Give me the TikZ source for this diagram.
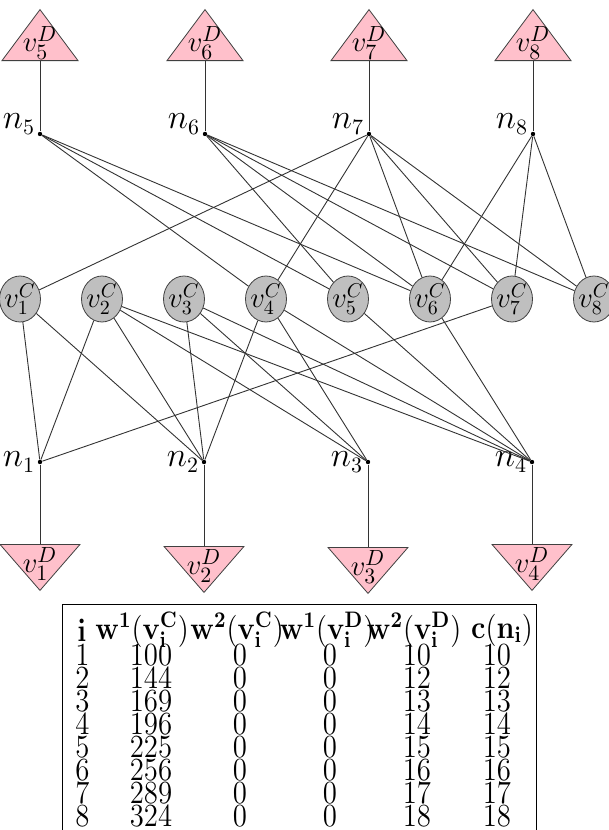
\documentclass[tikz,border=0pt]{standalone}
\usepackage{amsmath, amssymb}
\usepackage{graphicx}
\usepackage{xcolor}
\usepackage{tikz}
\usetikzlibrary{shapes.geometric}

\definecolor{demandpink}{RGB}{255,192,203}

\begin{document}
\begin{tikzpicture}[
    x=0.5pt, y=-0.5pt,
    font=\fontsize{16}{19}\selectfont,
    cnode/.style={ellipse, draw=black!75, fill=gray!50, minimum width=20.5pt, minimum height=23pt, inner sep=0pt},
    dtop/.style={isosceles triangle, isosceles triangle stretches, shape border rotate=90, draw=black!75, fill=demandpink, minimum width=38pt, minimum height=25.5pt, inner sep=0pt},
    dbot/.style={isosceles triangle, isosceles triangle stretches, shape border rotate=270, draw=black!75, fill=demandpink, minimum width=40pt, minimum height=23pt, inner sep=0pt},
    ndot/.style={circle, fill=black, inner sep=0pt, minimum size=2.2pt},
    link/.style={draw=black!80, line width=0.45pt},
    cell/.style={inner sep=0pt, font=\fontsize{14}{16}\selectfont}
]
    \useasboundingbox (0,0) rectangle (609,830);

    % Layer 3 - Top
    \foreach \k/\x in {5/40, 6/205, 7/369, 8/533} {
        \node[ndot, label={[inner sep=1pt, yshift=5pt]left:$n_{\k}$}] (n\k) at (\x,134) {};
        \node[dtop, anchor=lower side] (d\k) at (\x,61) {};
        \node[inner sep=0pt, font=\fontsize{15}{18}\selectfont] (t\k) at ([yshift=9pt]d\k.lower side) {$v_{\k}^D$};
        \draw[link] (d\k) -- (n\k);
    }

    % Layer 2 - Middle
    \foreach \k/\x in {1/20, 2/102, 3/184, 4/266, 5/348, 6/430, 7/512, 8/594}
        \node[cnode, label={[font=\fontsize{14}{17}\selectfont]center:{$v_{\k}^C$}}] (c\k) at (\x,299) {};

    % Layer 1 - Bottom
    \foreach \k/\x/\y in {1/40/544, 2/204/546, 3/368/547, 4/532/544} {
        \node[ndot, label={[inner sep=1pt]left:$n_{\k}$}] (n\k) at (\x,462) {};
        \node[dbot, anchor=lower side] (d\k) at (\x,\y) {};
        \node[inner sep=0pt, font=\fontsize{15}{18}\selectfont] (t\k) at ([yshift=-10pt]d\k.lower side) {$v_{\k}^D$};
        \draw[link] (n\k) -- (d\k);
    }

    % Links
    \foreach \n/\cs in {5/{4,5,6}, 6/{5,6,7,8}, 7/{1,4,6,7,8}, 8/{6,7,8},
                        1/{1,2,7}, 2/{1,2,3,4}, 3/{2,3,4}, 4/{2,3,4,5,6}}
        \foreach \c in \cs
            \draw[link] (n\n) -- (c\c);

    % Table
    \draw[line width=0.5pt] (62,830) -- (62,604) -- (536,604) -- (536,830);
    \node[cell, anchor=west] (hi) at (77,630) {\scalebox{1}[1.12]{$\mathbf{i}$}};
    \node[cell] (hw1c) at (142,630) {\scalebox{1}[1.12]{$\mathbf{w}^{\mathbf{1}}(\mathbf{v}_{\mathbf{i}}^{\mathbf{C}})$}};
    \node[cell] (hw2c) at (237,630) {\scalebox{1}[1.12]{$\mathbf{w}^{\mathbf{2}}(\mathbf{v}_{\mathbf{i}}^{\mathbf{C}})$}};
    \node[cell] (hw1d) at (327,630) {\scalebox{1}[1.12]{$\mathbf{w}^{\mathbf{1}}(\mathbf{v}_{\mathbf{i}}^{\mathbf{D}})$}};
    \node[cell] (hw2d) at (414,630) {\scalebox{1}[1.12]{$\mathbf{w}^{\mathbf{2}}(\mathbf{v}_{\mathbf{i}}^{\mathbf{D}})$}};
    \node[cell] (hcn) at (502,630) {\scalebox{1}[1.12]{$\mathbf{c}(\mathbf{n}_{\mathbf{i}})$}};
    \foreach \a/\b [count=\r] in {100/10, 144/12, 169/13, 196/14, 225/15, 256/16, 289/17, 324/18} {
        \node[cell, anchor=west] (r\r-i) at (75,632+23*\r) {\scalebox{1}[1.12]{$\r$}};
        \node[cell] (r\r-a) at (151,632+23*\r) {\scalebox{1}[1.12]{$\a$}};
        \node[cell] (r\r-b) at (240,632+23*\r) {\scalebox{1}[1.12]{$0$}};
        \node[cell] (r\r-c) at (330,632+23*\r) {\scalebox{1}[1.12]{$0$}};
        \node[cell] (r\r-d) at (417,632+23*\r) {\scalebox{1}[1.12]{$\b$}};
        \node[cell] (r\r-e) at (497,632+23*\r) {\scalebox{1}[1.12]{$\b$}};
    }
\end{tikzpicture}
\end{document}
